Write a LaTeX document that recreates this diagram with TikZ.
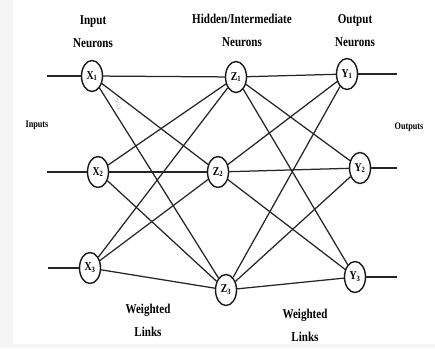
\documentclass[tikz,border=0pt]{standalone}
\usepackage{fontspec}
\setmainfont{Liberation Serif}
\newfontfamily\condfont[FakeStretch=0.82]{Liberation Serif}
\usetikzlibrary{shapes.geometric}
\tikzset{
  neuron/.style={draw=black!90, line width=1.4pt, ellipse, minimum width=21pt, minimum height=31pt, inner sep=0pt, fill=white, font=\condfont\bfseries\fontsize{12}{12}\selectfont},
  link/.style={draw=black!85, line width=1.25pt},
  title/.style={font=\condfont\bfseries\fontsize{13.5}{23}\selectfont, align=center, inner sep=0pt},
  side/.style={font=\condfont\bfseries\fontsize{10}{10}\selectfont, inner sep=0pt},
}
\begin{document}
\begin{tikzpicture}[x=1pt,y=-1pt]
\useasboundingbox (0,0) rectangle (435,348);
\fill[white] (0,0) rectangle (435,348);
\fill[black!4] (0,0) rectangle (13,348);
\fill[black!4] (0,344) rectangle (435,348);
% neurons
\node[neuron] (x1) at (92,76) {X\textsubscript{1}};
\node[neuron] (x2) at (98,172) {X\textsubscript{2}};
\node[neuron] (x3) at (90,268) {X\textsubscript{3}};
\node[neuron] (z1) at (236,77) {Z\textsubscript{1}};
\node[neuron] (z2) at (218,172) {Z\textsubscript{2}};
\node[neuron] (z3) at (226,290) {Z\textsubscript{3}};
\node[neuron] (y1) at (347,74) {Y\textsubscript{1}};
\node[neuron] (y2) at (360,168) {Y\textsubscript{2}};
\node[neuron] (y3) at (355,277) {Y\textsubscript{3}};
% free ends
\coordinate (i1) at (47,76);
\coordinate (i2) at (47,172);
\coordinate (i3) at (48,268);
\coordinate (o1) at (397,74);
\coordinate (o2) at (397,168);
\coordinate (o3) at (397,277);
% links
\foreach \a in {1,2,3}{
  \draw[link] (i\a) -- (x\a);
  \draw[link] (y\a) -- (o\a);
  \foreach \b in {1,2,3}{
    \draw[link] (x\a) -- (z\b);
    \draw[link] (z\a) -- (y\b);
  }
}
% labels
\node[title] (tin) at (93,32) {Input\\Neurons};
\node[title] (thid) at (242,30) {Hidden/Intermediate\\Neurons};
\node[title] (tout) at (355,31) {Output\\Neurons};
\node[side] (lin) at (37,125) {Inputs};
\node[side] (lout) at (409,127) {Outputs};
\node[title] (w1) at (148,320) {Weighted\\Links};
\node[title] (w2) at (305,325) {Weighted\\Links};
\node[font=\fontsize{6}{6}\selectfont, text=black!45, rotate=-70, inner sep=0pt] (wl) at (118,105) {$w_{11}$};
\end{tikzpicture}
\end{document}
